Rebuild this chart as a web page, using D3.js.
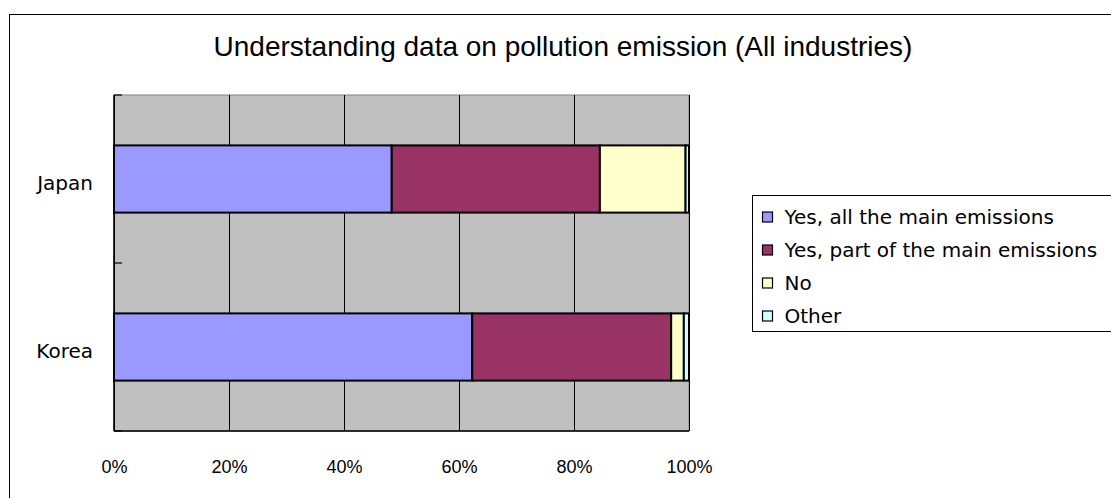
<!DOCTYPE html>
<html>
<head>
<meta charset="utf-8">
<script src="https://cdn.jsdelivr.net/npm/d3@7"></script>
<style>
	body { margin: 0; background: #fff; }
	svg { display: block; }
</style>
</head>
<body>
<script>
// values (percent of respondents)
var categories = ["Japan", "Korea"];
var seriesNames = ["Yes, all the main emissions", "Yes, part of the main emissions", "No", "Other"];
var japanValues = [48.3, 36.2, 14.9, 0.6];
var koreaValues = [62.3, 34.6, 2.2, 0.9];
var tickValues = [0, 20, 40, 60, 80, 100];

var params = {
	width: 1111,
	height: 498,
	plot: {left: 114, right: 689, top: 95, bottom: 431},
	fills: ["#9999FF", "#993366", "#FFFFCC", "#CCFFFF"],
	wideFont: "'DejaVu Sans', sans-serif",
	narrowFont: "'Liberation Sans', Arial, sans-serif"
};

// build rows for the stack
var rows = categories.map(function(c, i){
	var vals = i == 0 ? japanValues : koreaValues;
	var r = {cat: c};
	seriesNames.forEach(function(s, j){ r[s] = vals[j]; });
	return r;
});

var svg = d3.select("body").append("svg")
	.attr("width", params.width)
	.attr("height", params.height);

// outer chart frame (runs off the right and bottom edges)
svg.append("rect")
	.attr("x", 9.5).attr("y", 14.5)
	.attr("width", 1130).attr("height", 520)
	.style("fill", "#fff")
	.style("stroke", "#000")
	.style("stroke-width", 1);

svg.append("text")
	.attr("x", 563).attr("y", 56)
	.attr("text-anchor", "middle")
	.style("font-family", params.narrowFont)
	.style("font-size", "28px")
	.style("fill", "#000")
	.text("Understanding data on pollution emission (All industries)");

var x = d3.scaleLinear()
	.domain([0, 100])
	.range([params.plot.left, params.plot.right]);

var y = d3.scaleBand()
	.domain(categories)
	.range([params.plot.top, params.plot.bottom])
	.paddingInner(0.6)
	.paddingOuter(0.3);

// plot background
svg.append("rect")
	.attr("x", x(0)).attr("y", params.plot.top)
	.attr("width", x(100) - x(0))
	.attr("height", params.plot.bottom - params.plot.top)
	.style("fill", "#C0C0C0")
	.style("stroke", "#808080")
	.style("stroke-width", 1);

// vertical gridlines
var grid = svg.append("g")
	.attr("transform", "translate(0," + params.plot.bottom + ")")
	.call(d3.axisBottom(x).tickValues(tickValues).tickSize(-(params.plot.bottom - params.plot.top)).tickFormat(""));
grid.select(".domain").remove();
grid.selectAll("line").style("stroke", "#000").style("stroke-width", 1).attr("shape-rendering", "crispEdges");

// stacked bars
var stack = d3.stack().keys(seriesNames);
var layers = stack(rows);

svg.append("g").selectAll("g")
	.data(layers).enter().append("g")
		.style("fill", function(d, i){ return params.fills[i]; })
	.selectAll("rect")
	.data(function(d){ return d; }).enter().append("rect")
		.attr("x", function(d){ return x(d[0]); })
		.attr("y", function(d){ return y(d.data.cat); })
		.attr("width", function(d){ return x(d[1]) - x(d[0]); })
		.attr("height", y.bandwidth())
		.style("stroke", "#000")
		.style("stroke-width", 2);

// value axis labels
var xAxis = svg.append("g")
	.attr("transform", "translate(0," + params.plot.bottom + ")")
	.call(d3.axisBottom(x).tickValues(tickValues).tickSize(0).tickPadding(29).tickFormat(function(d){ return d + "%"; }));
xAxis.select(".domain").remove();
xAxis.selectAll("text")
	.style("font-family", params.narrowFont)
	.style("font-size", "18px")
	.style("fill", "#000");

// axis lines: left and bottom
svg.append("line")
	.attr("x1", x(0)).attr("x2", x(100))
	.attr("y1", params.plot.bottom).attr("y2", params.plot.bottom)
	.style("stroke", "#000").style("stroke-width", 1.5);
svg.append("line")
	.attr("x1", x(0)).attr("x2", x(0))
	.attr("y1", params.plot.top).attr("y2", params.plot.bottom)
	.style("stroke", "#000").style("stroke-width", 1.5);

// inside tick marks on the category axis, at the band boundaries
var half = (y.step() - y.bandwidth()) / 2;
var bounds = categories.map(function(c){ return y(c) - half; });
bounds.push(params.plot.bottom);
svg.append("g").selectAll("line")
	.data(bounds).enter().append("line")
		.attr("x1", x(0)).attr("x2", x(0) + 8)
		.attr("y1", function(d){ return d; })
		.attr("y2", function(d){ return d; })
		.style("stroke", "#000").style("stroke-width", 1.2);

// category labels
svg.append("g").selectAll("text")
	.data(categories).enter().append("text")
		.attr("x", 93)
		.attr("y", function(d){ return y(d) + y.bandwidth() / 2 + 4; })
		.attr("dy", "0.35em")
		.attr("text-anchor", "end")
		.style("font-family", params.wideFont)
		.style("font-size", "20px")
		.style("fill", "#000")
		.text(function(d){ return d; });

// legend
var legend = svg.append("g").attr("transform", "translate(752.5,195.5)");
legend.append("rect")
	.attr("width", 420).attr("height", 136)
	.style("fill", "#fff")
	.style("stroke", "#000")
	.style("stroke-width", 1);

var item = legend.selectAll(".item")
	.data(seriesNames).enter().append("g")
		.attr("class", "item")
		.attr("transform", function(d, i){ return "translate(0," + (21.5 + i * 33) + ")"; });

item.append("rect")
	.attr("x", 10).attr("y", -5)
	.attr("width", 10).attr("height", 10)
	.style("fill", function(d, i){ return params.fills[i]; })
	.style("stroke", "#000")
	.style("stroke-width", 1.2);

item.append("text")
	.attr("x", 32)
	.attr("dy", "0.36em")
	.style("font-family", params.wideFont)
	.style("font-size", "20px")
	.style("fill", "#000")
	.text(function(d){ return d; });
</script>
</body>
</html>
